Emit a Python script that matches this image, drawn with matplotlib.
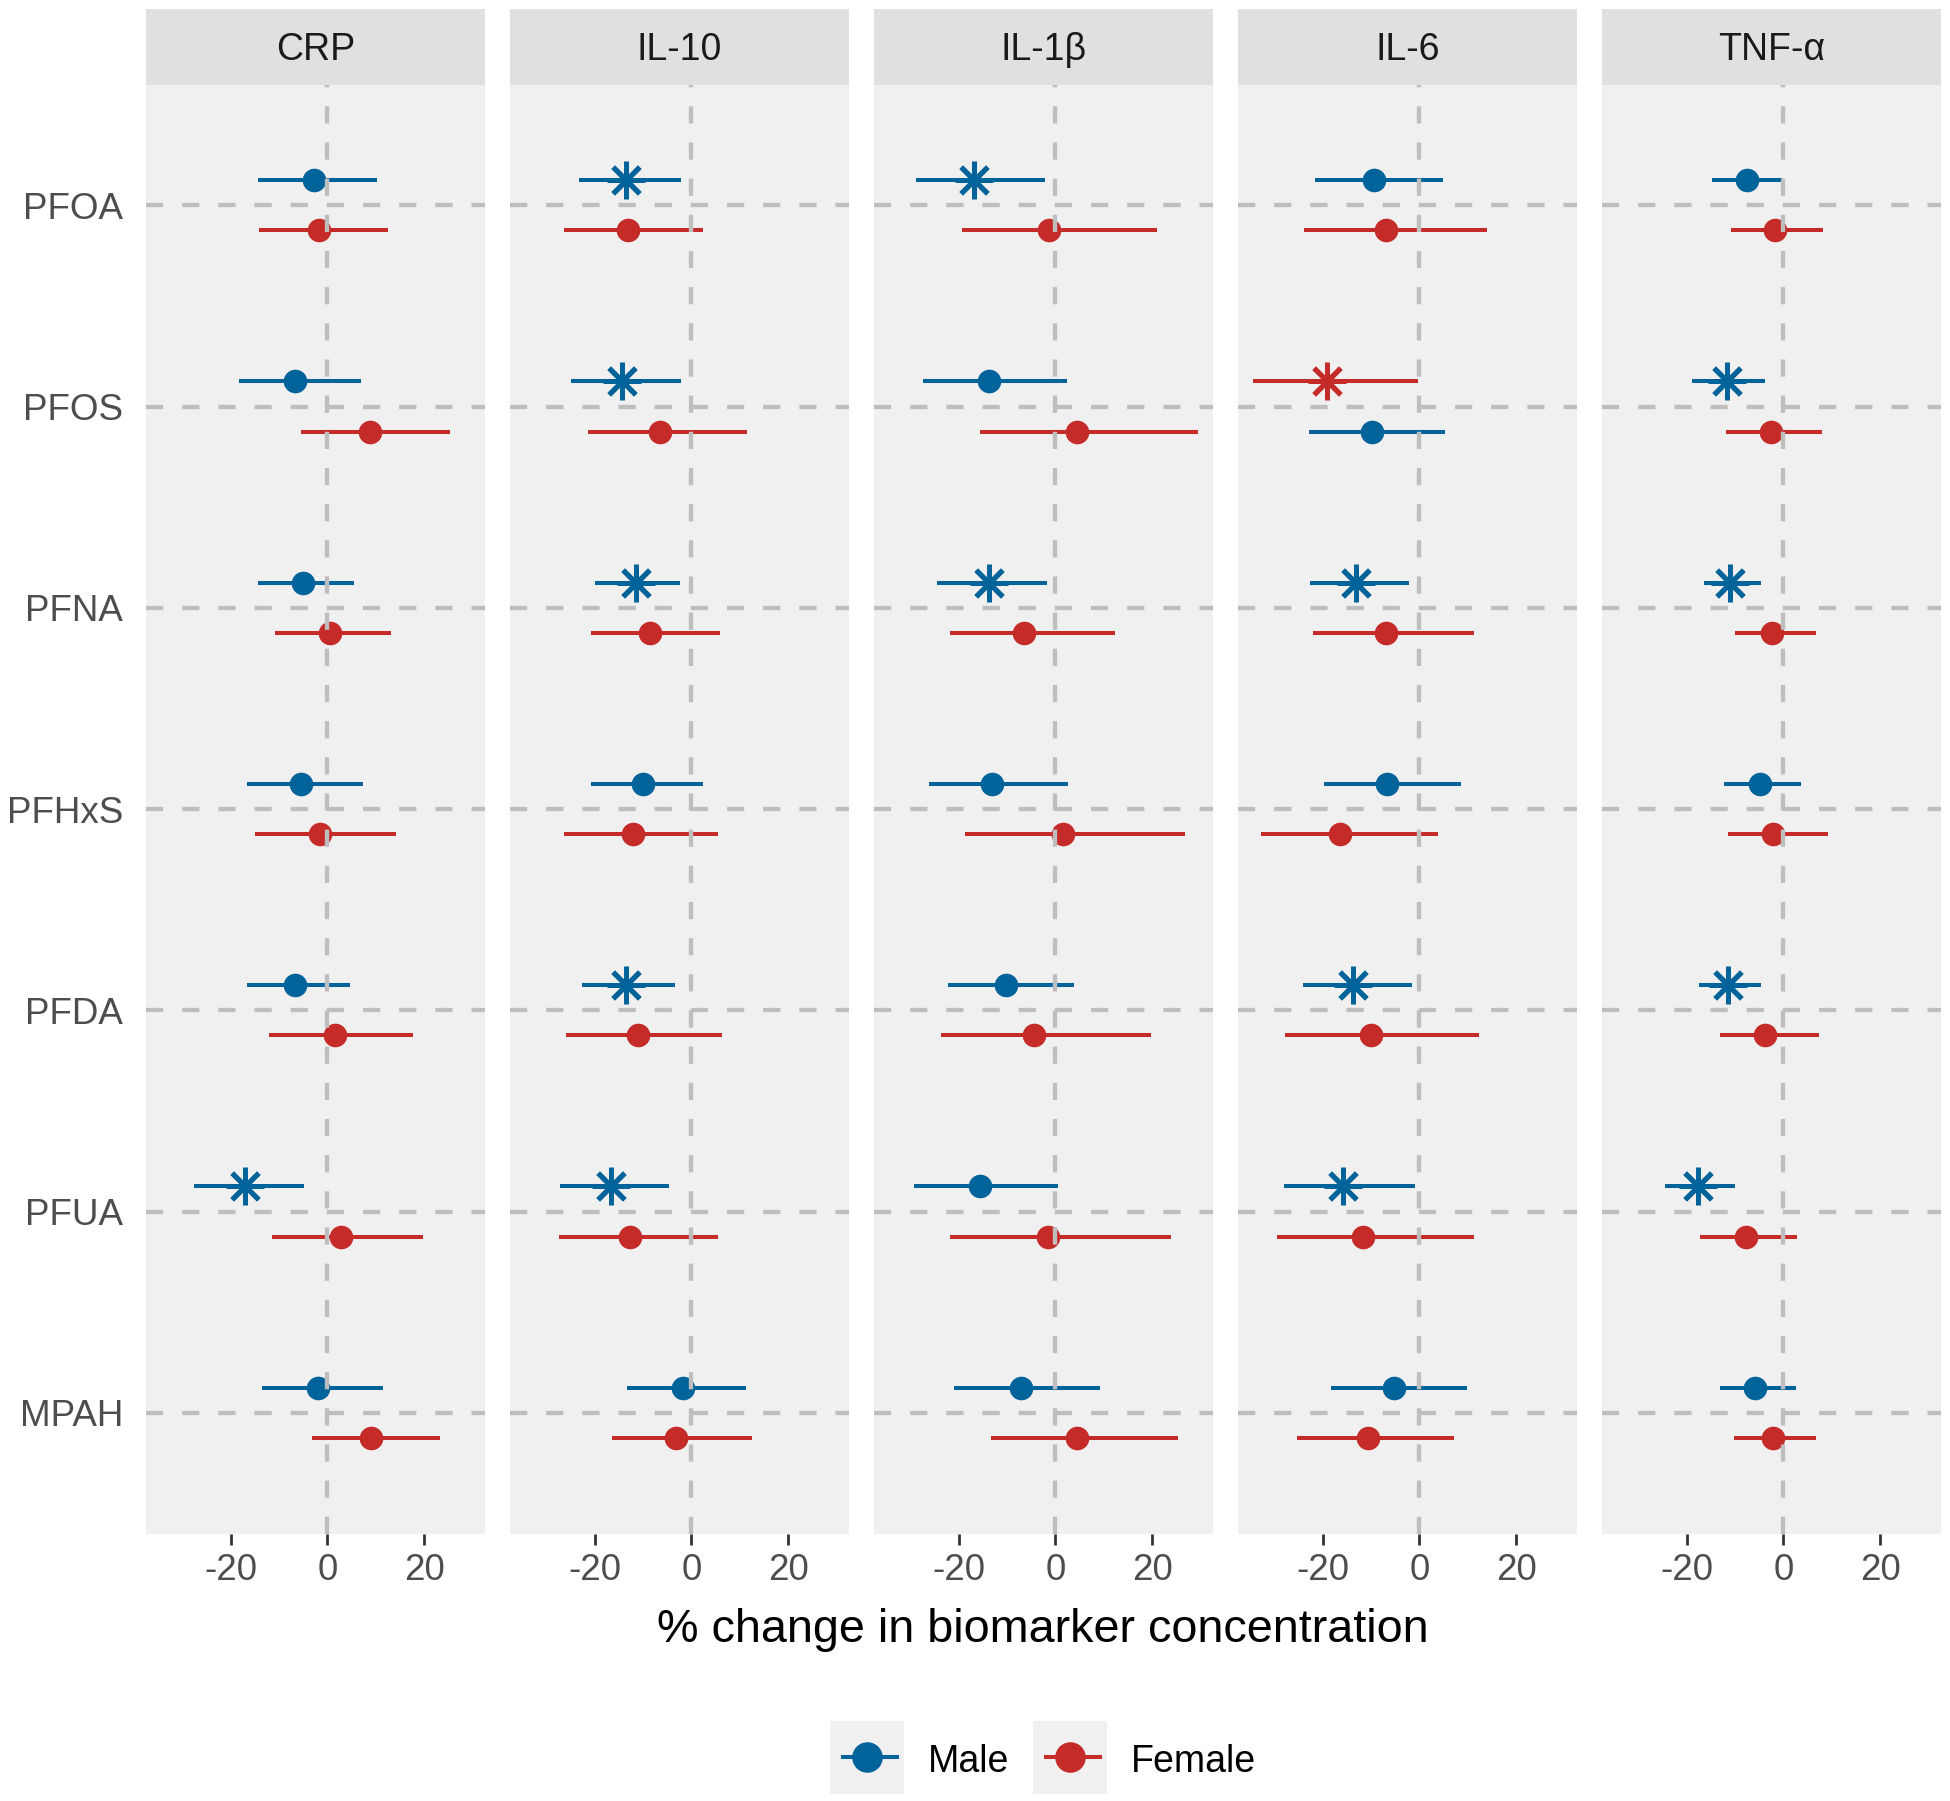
import matplotlib.pyplot as plt
from matplotlib.lines import Line2D
from matplotlib.patches import Rectangle
import numpy as np

plt.rcParams['font.family'] = ['Liberation Sans', 'DejaVu Sans']

biomarkers = ['CRP', 'IL-10', 'IL-1β', 'IL-6', 'TNF-α']
pfas = ['PFOA', 'PFOS', 'PFNA', 'PFHxS', 'PFDA', 'PFUA', 'MPAH']

# % change estimates and 95% CI, rows in the order of pfas
male_est = {
    'CRP':   [-2.8, -6.7, -5.1, -5.4, -6.7, -17.0, -1.9],
    'IL-10': [-13.6, -14.4, -11.5, -10.0, -13.6, -16.7, -1.8],
    'IL-1β': [-16.8, -13.7, -13.8, -13.1, -10.3, -15.6, -7.2],
    'IL-6':  [-9.4, -9.9, -13.1, -6.7, -13.8, -15.7, -5.3],
    'TNF-α': [-7.6, -11.6, -11.0, -4.9, -11.5, -17.6, -5.8],
}
male_lo = {
    'CRP':   [-14.4, -18.2, -14.4, -16.7, -16.7, -27.6, -13.5],
    'IL-10': [-23.3, -24.9, -20.0, -20.8, -22.6, -27.2, -13.3],
    'IL-1β': [-28.9, -27.3, -24.4, -26.2, -22.3, -29.2, -21.0],
    'IL-6':  [-21.6, -22.9, -22.6, -19.7, -24.1, -27.9, -18.2],
    'TNF-α': [-14.8, -18.9, -16.4, -12.3, -17.4, -24.5, -13.1],
}
male_hi = {
    'CRP':   [10.3, 6.9, 5.4, 7.4, 4.6, -4.9, 11.4],
    'IL-10': [-2.1, -2.1, -2.3, 2.3, -3.3, -4.6, 11.3],
    'IL-1β': [-2.2, 2.4, -1.8, 2.6, 3.8, 0.5, 9.2],
    'IL-6':  [4.9, 5.2, -2.1, 8.5, -1.5, -0.9, 9.8],
    'TNF-α': [-0.3, -3.8, -4.6, 3.6, -4.6, -10.1, 2.5],
}
female_est = {
    'CRP':   [-1.8, 8.7, 0.5, -1.5, 1.5, 2.9, 9.1],
    'IL-10': [-13.1, -6.4, -8.5, -12.1, -11.0, -12.6, -3.1],
    'IL-1β': [-1.4, 4.5, -6.4, 1.5, -4.4, -1.5, 4.4],
    'IL-6':  [-6.9, -19.1, -6.9, -16.4, -10.0, -11.6, -10.7],
    'TNF-α': [-1.8, -2.5, -2.3, -2.1, -3.8, -7.7, -2.2],
}
female_lo = {
    'CRP':   [-14.1, -5.4, -10.8, -14.9, -12.1, -11.5, -3.1],
    'IL-10': [-26.4, -21.3, -20.8, -26.4, -25.9, -27.4, -16.4],
    'IL-1β': [-19.4, -15.6, -21.8, -18.7, -23.6, -21.8, -13.3],
    'IL-6':  [-23.9, -34.4, -22.0, -32.8, -27.7, -29.5, -25.4],
    'TNF-α': [-10.8, -11.8, -10.0, -11.5, -13.1, -17.2, -10.2],
}
female_hi = {
    'CRP':   [12.6, 25.4, 13.1, 14.1, 17.7, 19.8, 23.2],
    'IL-10': [2.3, 11.5, 5.9, 5.4, 6.4, 5.4, 12.6],
    'IL-1β': [21.0, 29.4, 12.3, 26.7, 19.7, 23.8, 25.4],
    'IL-6':  [13.9, -0.4, 11.3, 3.8, 12.3, 11.3, 7.2],
    'TNF-α': [8.2, 7.9, 6.7, 9.2, 7.4, 2.8, 6.8],
}
# significant estimates get the asterisk
male_sig = {
    'CRP':   [0, 0, 0, 0, 0, 1, 0],
    'IL-10': [1, 1, 1, 0, 1, 1, 0],
    'IL-1β': [1, 0, 1, 0, 0, 0, 0],
    'IL-6':  [0, 0, 1, 0, 1, 1, 0],
    'TNF-α': [0, 1, 1, 0, 1, 1, 0],
}
female_sig = {
    'CRP':   [0, 0, 0, 0, 0, 0, 0],
    'IL-10': [0, 0, 0, 0, 0, 0, 0],
    'IL-1β': [0, 0, 0, 0, 0, 0, 0],
    'IL-6':  [0, 1, 0, 0, 0, 0, 0],
    'TNF-α': [0, 0, 0, 0, 0, 0, 0],
}
# cells where the dodge order came out female-on-top
swapped = [('IL-6', 'PFOS')]

blue = '#00639A'
red = '#C52B29'

W, H = 1950, 1801
fig = plt.figure(figsize=(W / 100, H / 100), dpi=100)

def fx(px):
    return px / W

def fy(py):
    return 1 - py / H

all_lo = min(min(v) for d in (male_lo, female_lo) for v in d.values())
all_hi = max(max(v) for d in (male_hi, female_hi) for v in d.values())
pad = 0.05 * (all_hi - all_lo)
xlim = (all_lo - pad, all_hi + pad)

panel_w = 339.7
gap = 24.3
left0 = 145.5
top, bottom = 84.6, 1533.5
strip_top = 8.7
dash = (0, (4.0, 4.4))
ypos = np.arange(1, len(pfas) + 1)

def draw_group(ax, est, lo, hi, sig, y, color):
    est = np.array(est)
    ax.errorbar(est, y, xerr=[est - np.array(lo), np.array(hi) - est],
                fmt='none', ecolor=color, elinewidth=2.9, capsize=0, zorder=3)
    sig = np.array(sig, dtype=bool)
    ax.plot(est[~sig], y[~sig], 'o', color=color, ms=17, mew=0, zorder=4)
    ax.plot(est[sig], y[sig], ls='none', marker=(8, 2, 0), color=color,
            ms=27, mew=3.6, zorder=4)

for i, bm in enumerate(biomarkers):
    x0 = left0 + i * (panel_w + gap)
    ax = fig.add_axes([fx(x0), fy(bottom), panel_w / W, (bottom - top) / H])
    ax.set_facecolor('#F0F0F0')
    for s in ax.spines.values():
        s.set_visible(False)

    off_m = np.array([0.125 if (bm, p) in swapped else -0.125 for p in pfas])
    for y in ypos:
        ax.axhline(y, color='#BEBEBE', lw=3.1, ls=dash, zorder=1)
    draw_group(ax, male_est[bm], male_lo[bm], male_hi[bm], male_sig[bm], ypos + off_m, blue)
    draw_group(ax, female_est[bm], female_lo[bm], female_hi[bm], female_sig[bm], ypos - off_m, red)
    ax.axvline(0, color='#BEBEBE', lw=3.1, ls=dash, zorder=5)

    ax.set_xlim(*xlim)
    ax.set_ylim(len(pfas) + 0.6, 0.4)
    ax.set_xticks([-20, 0, 20])
    ax.set_xticklabels(['-20', '0', '20'])
    ax.tick_params(axis='x', length=8, width=2, color='#333333', pad=6,
                   labelsize=26.5, labelcolor='#4D4D4D')
    ax.set_yticks(ypos)
    if i == 0:
        ax.set_yticklabels(pfas)
        ax.tick_params(axis='y', length=0, pad=16, labelsize=26.5, labelcolor='#4D4D4D')
    else:
        ax.set_yticklabels([])
        ax.tick_params(axis='y', length=0)

    sx = fig.add_axes([fx(x0), fy(top), panel_w / W, (top - strip_top) / H])
    sx.set_facecolor('#E0E0E0')
    sx.set_xticks([])
    sx.set_yticks([])
    for s in sx.spines.values():
        s.set_visible(False)
    sx.text(0.5, 0.324, bm, ha='center', va='baseline', fontsize=27,
            color='#1A1A1A', transform=sx.transAxes)

fig.text(fx(1043), fy(1642), '% change in biomarker concentration',
         ha='center', va='baseline', fontsize=33.7, color='black')

# legend
for kx, lab, col in [(830, 'Male', blue), (1033, 'Female', red)]:
    fig.add_artist(Rectangle((fx(kx), fy(1794)), 74 / W, 73 / H,
                             transform=fig.transFigure, facecolor='#F0F0F0',
                             edgecolor='none'))
    fig.add_artist(Line2D([fx(kx + 13), fx(kx + 67)], [fy(1757), fy(1757)],
                          transform=fig.transFigure, color=col, lw=2.9))
    fig.add_artist(Line2D([fx(kx + 37)], [fy(1757)], transform=fig.transFigure,
                          marker='o', ms=22, mew=0, color=col))
    fig.text(fx(kx + 98), fy(1772), lab, ha='left', va='baseline',
             fontsize=27, color='black')

fig.savefig('out.png', dpi=100)
